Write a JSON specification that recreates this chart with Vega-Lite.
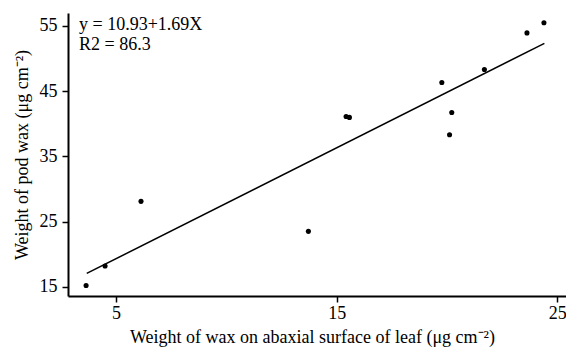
{
  "$schema": "https://vega.github.io/schema/vega-lite/v6.json",
  "width": 498,
  "height": 283,
  "autosize": {"type": "none"},
  "padding": {"left": 68, "top": 13, "right": 0, "bottom": 53},
  "background": "white",
  "config": {
    "view": {"stroke": null},
    "font": "Liberation Serif",
    "axis": {
      "domainColor": "black",
      "domainWidth": 2,
      "tickColor": "black",
      "tickWidth": 1.5,
      "tickSize": 6,
      "labelColor": "black",
      "labelFont": "Liberation Serif",
      "labelFontSize": 18,
      "titleColor": "black",
      "titleFont": "Liberation Serif",
      "titleFontSize": 18,
      "titleFontWeight": "normal",
      "grid": false
    }
  },
  "datasets": {
    "points": [
      {"leaf": 3.64, "pod": 15.2},
      {"leaf": 4.5, "pod": 18.2},
      {"leaf": 6.13, "pod": 28.1},
      {"leaf": 13.72, "pod": 23.5},
      {"leaf": 15.43, "pod": 41.1},
      {"leaf": 15.58, "pod": 40.96},
      {"leaf": 19.77, "pod": 46.3},
      {"leaf": 20.12, "pod": 38.3},
      {"leaf": 20.22, "pod": 41.7},
      {"leaf": 21.7, "pod": 48.3},
      {"leaf": 23.63, "pod": 53.9},
      {"leaf": 24.4, "pod": 55.46}
    ],
    "fit": [
      {"leaf": 3.67, "pod": 17.06},
      {"leaf": 24.42, "pod": 52.3}
    ],
    "notes": [
      {"leaf": 3.32, "pod": 54.34, "text": "y = 10.93+1.69X"},
      {"leaf": 3.32, "pod": 51.3, "text": "R2 = 86.3"}
    ]
  },
  "layer": [
    {
      "data": {"name": "points"},
      "mark": {"type": "circle", "color": "black", "opacity": 1, "size": 26},
      "encoding": {
        "x": {
          "field": "leaf", "type": "quantitative",
          "scale": {"domain": [2.82, 25.4], "nice": false, "zero": false},
          "axis": {"values": [5, 15, 25], "labelPadding": 2, "titleY": 46, "titleX": 244, "titleBaseline": "alphabetic",
                   "title": "Weight of wax on abaxial surface of leaf (μg cm⁻²)"}
        },
        "y": {
          "field": "pod", "type": "quantitative",
          "scale": {"domain": [13.6, 56.95], "nice": false, "zero": false},
          "axis": {"values": [15, 25, 35, 45, 55], "labelPadding": 5, "titlePadding": 8,
                   "title": "Weight of pod wax (μg cm⁻²)"}
        }
      }
    },
    {
      "data": {"name": "fit"},
      "mark": {"type": "line", "color": "black", "strokeWidth": 1.5},
      "encoding": {
        "x": {"field": "leaf", "type": "quantitative"},
        "y": {"field": "pod", "type": "quantitative"}
      }
    },
    {
      "data": {"name": "notes"},
      "mark": {"type": "text", "align": "left", "baseline": "alphabetic", "fontSize": 18, "font": "Liberation Serif", "color": "black"},
      "encoding": {
        "x": {"field": "leaf", "type": "quantitative"},
        "y": {"field": "pod", "type": "quantitative"},
        "text": {"field": "text"}
      }
    }
  ]
}
